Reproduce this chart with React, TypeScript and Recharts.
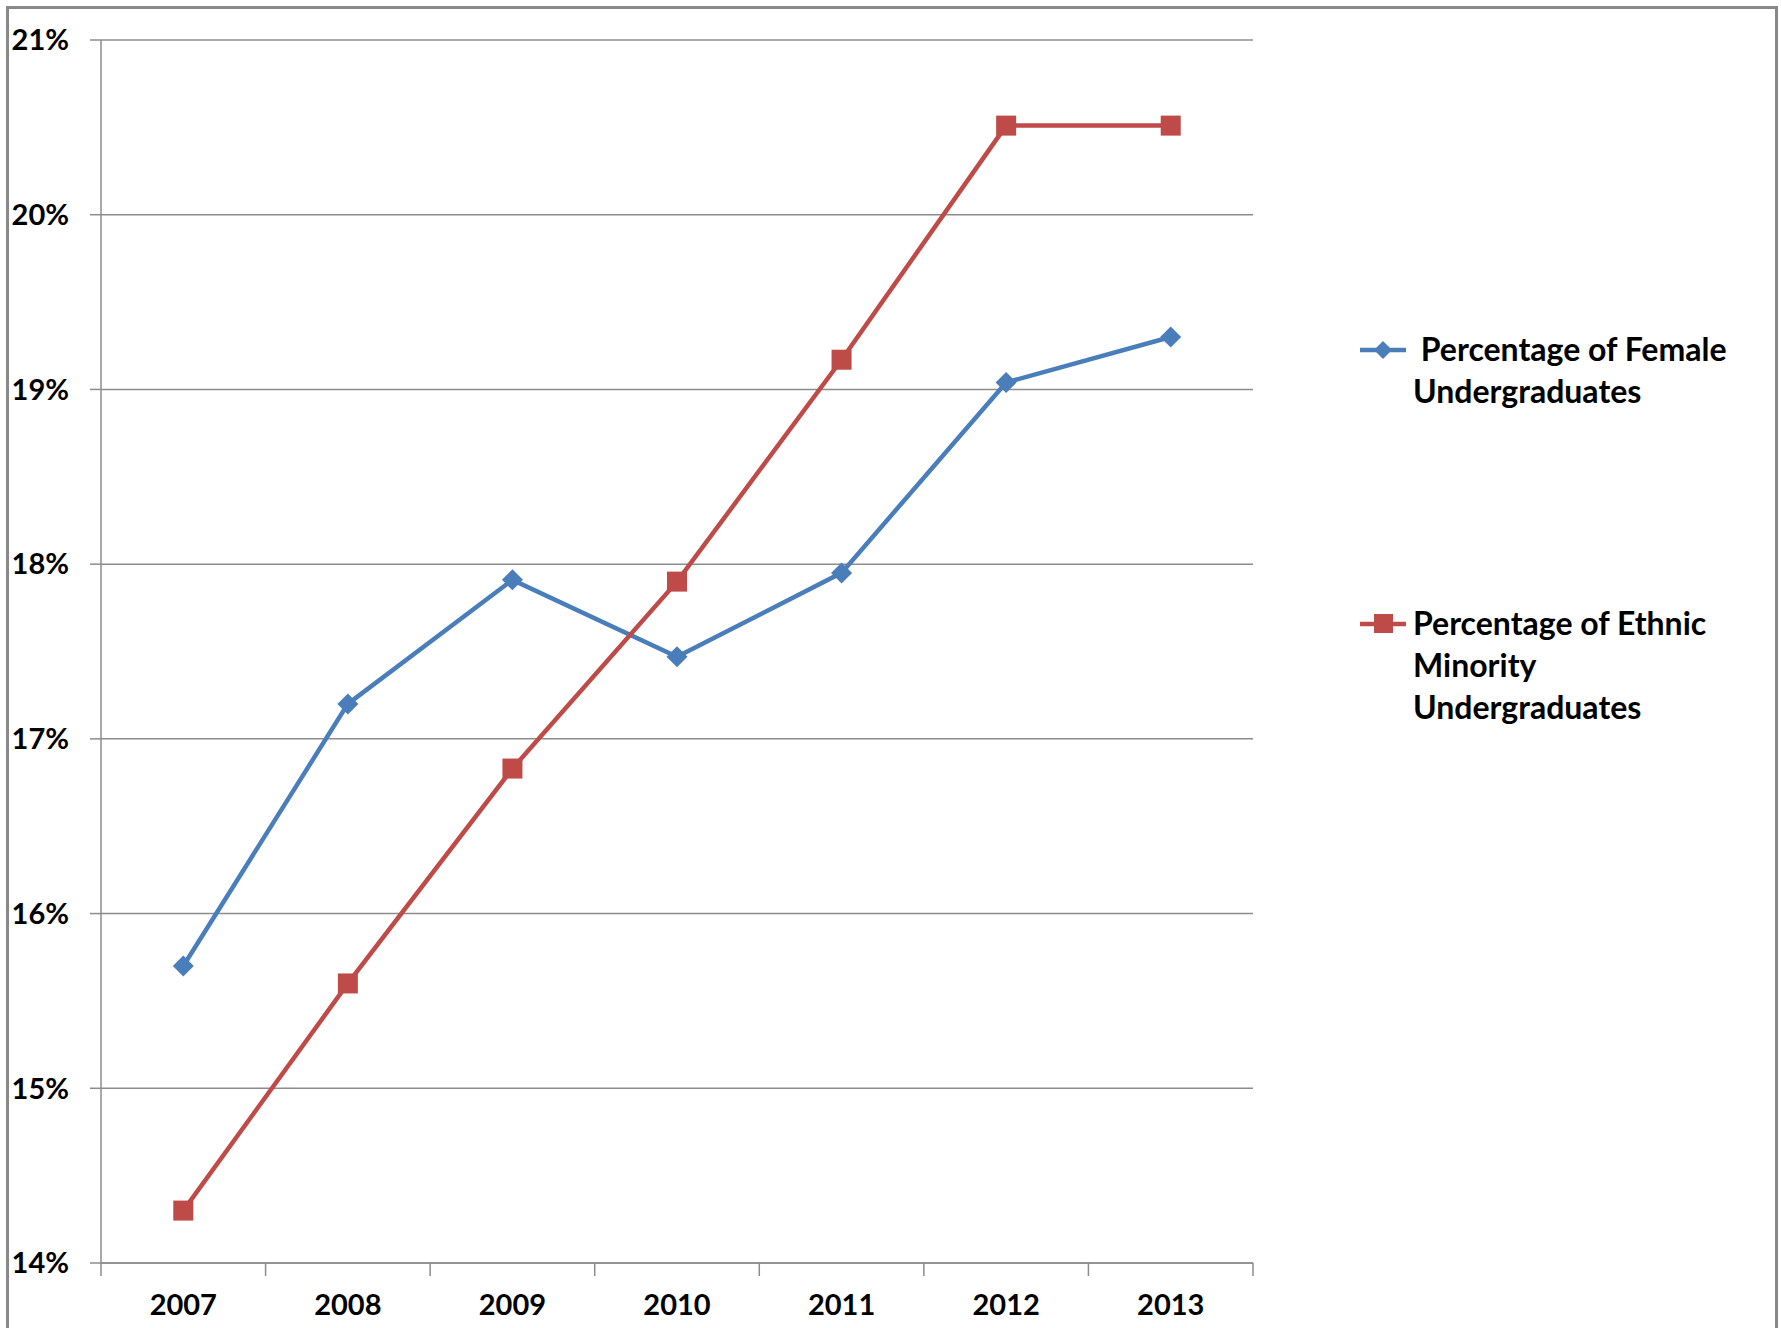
import { LineChart, Line, XAxis, YAxis, CartesianGrid } from "recharts";

const YEARS = [2007, 2008, 2009, 2010, 2011, 2012, 2013];
const FEMALE = [15.7, 17.2, 17.91, 17.47, 17.95, 19.04, 19.3];
const ETHNIC = [14.3, 15.6, 16.83, 17.9, 19.17, 20.51, 20.51];
const Y_TICKS = [14, 15, 16, 17, 18, 19, 20, 21];
const BOUNDS = [2006.5, 2007.5, 2008.5, 2009.5, 2010.5, 2011.5, 2012.5, 2013.5];
const X_TICKS = [...BOUNDS, ...YEARS].sort((a, b) => a - b);

const BLUE = "#4a7ebb";
const RED = "#be4b48";
const GRID = "#8c8c8c";
const FONT = "Lato, 'Open Sans', sans-serif";

const data = YEARS.map((year, i) => ({
  year,
  female: FEMALE[i],
  ethnic: ETHNIC[i],
}));

const Diamond = (props: any) => {
  const { cx, cy } = props;
  if (cx == null || cy == null) return null;
  const r = 10.5;
  return (
    <polygon
      points={`${cx},${cy - r} ${cx + r},${cy} ${cx},${cy + r} ${cx - r},${cy}`}
      fill={BLUE}
    />
  );
};

const Square = (props: any) => {
  const { cx, cy } = props;
  if (cx == null || cy == null) return null;
  return <rect x={cx - 10} y={cy - 10} width={20} height={20} fill={RED} />;
};

// category boundaries get a tick mark, category centres get the year label
const YearTick = (props: any) => {
  const { x, y, payload } = props;
  const v = payload.value;
  if (!Number.isInteger(v)) {
    return <line x1={x} y1={y} x2={x} y2={y + 13} stroke={GRID} strokeWidth={1.5} />;
  }
  return (
    <text
      x={x}
      y={y + 31}
      dy="0.71em"
      textAnchor="middle"
      fontFamily={FONT}
      fontWeight={700}
      fontSize={29}
      fill="#000"
    >
      {v}
    </text>
  );
};

const legendText = {
  position: "absolute" as const,
  fontFamily: FONT,
  fontWeight: 700,
  fontSize: 32,
  color: "#000",
  lineHeight: "42px",
  whiteSpace: "nowrap" as const,
};

export default function App() {
  return (
    <div
      style={{
        position: "absolute",
        left: 0,
        top: 0,
        width: 1781,
        height: 1328,
        overflow: "hidden",
        background: "#fff",
      }}
    >
      <div
        style={{
          position: "absolute",
          left: 6,
          top: 6,
          width: 1766,
          height: 1400,
          border: "3px solid #898989",
        }}
      />
      <div style={{ position: "absolute", left: 0, top: 0 }}>
        <LineChart
          width={1781}
          height={1328}
          data={data}
          margin={{ top: 40, right: 528, left: 0, bottom: 0 }}
        >
          <CartesianGrid vertical={false} stroke={GRID} strokeWidth={1.5} />
          <XAxis
            type="number"
            dataKey="year"
            domain={[2006.5, 2013.5]}
            ticks={X_TICKS}
            interval={0}
            tickLine={false}
            axisLine={{ stroke: GRID, strokeWidth: 1.5 }}
            tickSize={0}
            tickMargin={0}
            height={65}
            tick={<YearTick />}
          />
          <YAxis
            type="number"
            domain={[14, 21]}
            ticks={Y_TICKS}
            width={101}
            tickSize={11}
            tickMargin={21}
            axisLine={{ stroke: GRID, strokeWidth: 1.5 }}
            tickLine={{ stroke: GRID, strokeWidth: 1.5 }}
            tickFormatter={(v) => `${v}%`}
            tick={{ fontFamily: FONT, fontWeight: 700, fontSize: 29, fill: "#000" }}
          />
          <Line
            dataKey="female"
            stroke={BLUE}
            strokeWidth={4.5}
            dot={<Diamond />}
            isAnimationActive={false}
          />
          <Line
            dataKey="ethnic"
            stroke={RED}
            strokeWidth={4.5}
            dot={<Square />}
            isAnimationActive={false}
          />
        </LineChart>
      </div>

      <svg
        style={{ position: "absolute", left: 1358, top: 330 }}
        width={50}
        height={40}
      >
        <line x1={2} y1={20} x2={48} y2={20} stroke={BLUE} strokeWidth={4.5} />
        <polygon points="25,11 34,20 25,29 16,20" fill={BLUE} />
      </svg>
      <div style={{ ...legendText, left: 1413, top: 328 }}>
        &nbsp;Percentage of Female
        <br />
        Undergraduates
      </div>

      <svg
        style={{ position: "absolute", left: 1358, top: 604 }}
        width={50}
        height={40}
      >
        <line x1={2} y1={20} x2={48} y2={20} stroke={RED} strokeWidth={4.5} />
        <rect x={16} y={10} width={19} height={19} fill={RED} />
      </svg>
      <div style={{ ...legendText, left: 1413, top: 602 }}>
        Percentage of Ethnic
        <br />
        Minority
        <br />
        Undergraduates
      </div>
    </div>
  );
}
